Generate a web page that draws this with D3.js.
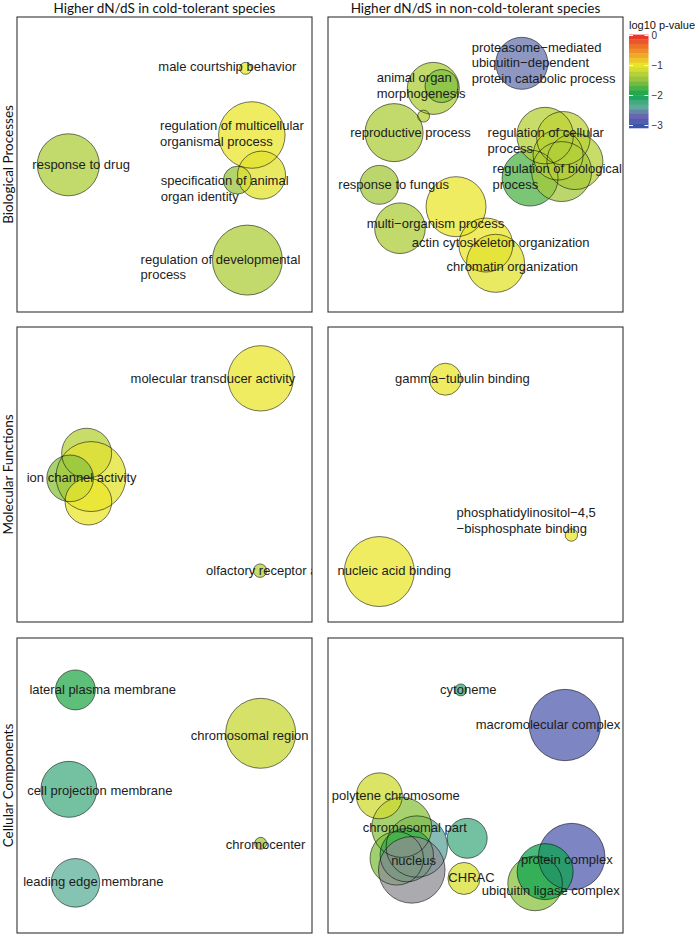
<!DOCTYPE html>
<html>
<head>
<meta charset="utf-8">
<script src="https://cdn.jsdelivr.net/npm/d3@7"></script>
<style>
  body { margin: 0; background: #fff; }
  svg { display: block; }
  .bubbleLabel { font-family: 'Liberation Sans', Arial, sans-serif; font-size: 13px; fill: #1c1c1c; }
  .stripTitle { font-family: Lato, 'Open Sans', sans-serif; font-size: 13.5px; fill: #111; }
  .legendTitle { font-family: 'Liberation Sans', Arial, sans-serif; font-size: 11px; fill: #111; }
  .legendAxis text { font-family: 'Liberation Sans', Arial, sans-serif; font-size: 10px; fill: #333; }
</style>
</head>
<body>
<div id="chart"></div>
<script>
'use strict';

// Facet titles
let columnTitles = ['Higher dN/dS in cold-tolerant species', 'Higher dN/dS in non-cold-tolerant species'];
let rowTitles = ['Biological Processes', 'Molecular Functions', 'Cellular Components'];

// Bubbles: semantic x/y (0-100), log size, log10 p-value (null = NA)
let bpCold = [
  {x: 77.5, y: 82.6, size: 0.11, logp: -1.0},
  {x: 79.6, y: 60.0, size: 3.42, logp: -1.0},
  {x: 74.7, y: 44.7, size: 0.60, logp: -1.45},
  {x: 82.9, y: 46.4, size: 1.78, logp: -1.05},
  {x: 78.1, y: 17.6, size: 3.78, logp: -1.35},
  {x: 17.4, y: 49.9, size: 2.97, logp: -1.35},
];
let bpColdLabels = [
  {text: 'male courtship behavior', x: 47.9, y: 83.1},
  {text: 'regulation of multicellular\norganismal process', x: 48.5, y: 63.1},
  {text: 'specification of animal\norgan identity', x: 48.7, y: 44.6},
  {text: 'regulation of developmental\nprocess', x: 41.9, y: 17.9},
  {text: 'response to drug', x: 5.2, y: 49.9},
];

let bpWarm = [
  {x: 65.7, y: 84.3, size: 2.09, logp: -2.62},
  {x: 35.7, y: 75.8, size: 2.09, logp: -1.35},
  {x: 38.5, y: 76.6, size: 0.84, logp: -1.55},
  {x: 32.4, y: 66.4, size: 0.11, logp: -1.3},
  {x: 22.4, y: 60.8, size: 2.60, logp: -1.35},
  {x: 17.4, y: 43.1, size: 1.17, logp: -1.4},
  {x: 24.4, y: 28.4, size: 1.98, logp: -1.35},
  {x: 43.4, y: 35.7, size: 2.78, logp: -1.0},
  {x: 53.5, y: 22.7, size: 2.25, logp: -1.0},
  {x: 56.8, y: 16.5, size: 2.60, logp: -1.05},
  {x: 68.5, y: 45.4, size: 2.42, logp: -1.75},
  {x: 73.6, y: 59.8, size: 2.47, logp: -1.3},
  {x: 79.8, y: 58.9, size: 2.20, logp: -1.25},
  {x: 83.7, y: 51.0, size: 2.42, logp: -1.3},
  {x: 79.2, y: 47.6, size: 2.78, logp: -1.4},
  {x: 78.0, y: 53.2, size: 1.93, logp: -1.3},
];
let bpWarmLabels = [
  {text: 'proteasome\u2212mediated\nubiquitin\u2212dependent\nprotein catabolic process', x: 48.7, y: 89.8},
  {text: 'animal organ\nmorphogenesis', x: 16.5, y: 79.4},
  {text: 'reproductive process', x: 7.5, y: 60.8},
  {text: 'response to fungus', x: 3.5, y: 43.1},
  {text: 'multi\u2212organism process', x: 13.1, y: 30.1},
  {text: 'actin cytoskeleton organization', x: 28.4, y: 23.7},
  {text: 'chromatin organization', x: 40.2, y: 15.4},
  {text: 'regulation of cellular\nprocess', x: 54.1, y: 60.8},
  {text: 'regulation of biological\nprocess', x: 55.8, y: 48.5},
];

let mfCold = [
  {x: 82.6, y: 82.6, size: 3.30, logp: -1.0},
  {x: 23.6, y: 57.2, size: 1.93, logp: -1.3},
  {x: 25.1, y: 49.3, size: 3.78, logp: -1.05},
  {x: 18.0, y: 48.7, size: 1.68, logp: -1.5},
  {x: 24.2, y: 40.8, size: 1.68, logp: -1.0},
  {x: 82.4, y: 17.4, size: 0.14, logp: -1.3},
];
let mfColdLabels = [
  {text: 'molecular transducer activity', x: 38.5, y: 82.6},
  {text: 'ion channel activity', x: 3.3, y: 49.1},
  {text: 'olfactory receptor activity', x: 64.1, y: 17.4},
];

let mfWarm = [
  {x: 39.8, y: 82.3, size: 0.79, logp: -1.0},
  {x: 82.5, y: 29.5, size: 0.12, logp: -1.0},
  {x: 17.4, y: 17.1, size: 3.78, logp: -1.0},
];
let mfWarmLabels = [
  {text: 'gamma\u2212tubulin binding', x: 22.7, y: 82.5},
  {text: 'phosphatidylinositol\u22124,5\n\u2212bisphosphate binding', x: 43.6, y: 37.1},
  {text: 'nucleic acid binding', x: 3.2, y: 17.4},
];

let ccCold = [
  {x: 19.8, y: 82.4, size: 1.23, logp: -1.9},
  {x: 82.6, y: 67.7, size: 3.78, logp: -1.2},
  {x: 17.6, y: 48.7, size: 2.42, logp: -2.25},
  {x: 82.6, y: 30.4, size: 0.11, logp: -1.4},
  {x: 19.8, y: 17.0, size: 1.82, logp: -2.35},
];
let ccColdLabels = [
  {text: 'lateral plasma membrane', x: 4.2, y: 82.6},
  {text: 'chromosomal region', x: 58.9, y: 67.0},
  {text: 'cell projection membrane', x: 3.5, y: 48.2},
  {text: 'chromocenter', x: 70.8, y: 30.1},
  {text: 'leading edge membrane', x: 2.1, y: 17.4},
];

let ccWarm = [
  {x: 45.0, y: 82.4, size: 0.11, logp: -2.2},
  {x: 80.3, y: 70.5, size: 3.93, logp: -2.85},
  {x: 47.2, y: 32.1, size: 1.23, logp: -2.25},
  {x: 30.1, y: 29.3, size: 2.91, logp: -2.4},
  {x: 25.0, y: 35.8, size: 2.78, logp: -1.5},
  {x: 17.4, y: 46.5, size: 1.63, logp: -1.15},
  {x: 23.3, y: 25.3, size: 2.20, logp: -1.55},
  {x: 26.7, y: 26.4, size: 2.20, logp: -1.85},
  {x: 28.4, y: 21.4, size: 3.42, logp: null},
  {x: 46.1, y: 18.5, size: 0.79, logp: -1.1},
  {x: 70.2, y: 16.8, size: 2.30, logp: -1.5},
  {x: 82.6, y: 25.9, size: 3.42, logp: -2.85},
  {x: 73.6, y: 20.8, size: 2.42, logp: -2.0},
];
let ccWarmLabels = [
  {text: 'cytoneme', x: 38.0, y: 82.4},
  {text: 'macromolecular complex', x: 50.1, y: 70.6},
  {text: 'polytene chromosome', x: 1.3, y: 46.5},
  {text: 'chromosomal part', x: 11.8, y: 35.7},
  {text: 'nucleus', x: 21.4, y: 24.7},
  {text: 'CHRAC', x: 40.8, y: 18.7},
  {text: 'protein complex', x: 65.4, y: 25.1},
  {text: 'ubiquitin ligase complex', x: 52.1, y: 14.4},
];

// Colour scale for log10 p-value
let paletteStops = [-3, -2.7, -2.35, -2.0, -1.4, -1.0, -0.5, 0];
let paletteColors = ['#3a55a8', '#6a62b2', '#5cb098', '#0fa350', '#a4c83c', '#eae62c', '#f08a28', '#e8302c'];
let legendTicks = [0, -1, -2, -3];
let legendLimits = [0.03, -3.08];
let naColor = '#8e8e94';

// Formatting
let width = 700;
let height = 935;
let panelSize = 295;
let panelLeft = [17, 328];
let panelTop = [17, 327, 638];
let fillOpacity = 0.75;
let lineHeight = 15.6;

let xScale = d3.scaleLinear().domain([0, 100]).range([0, panelSize]);
let yScale = d3.scaleLinear().domain([0, 100]).range([panelSize, 0]);
let rScale = d3.scaleSqrt().domain([0, 4]).range([0, 36]);
let colorScale = d3.scaleLinear().domain(paletteStops).range(paletteColors).clamp(true);

let getColor = (d) => (d.logp === null ? naColor : colorScale(d.logp));

let svg = d3.select('#chart').append('svg')
  .attr('width', width)
  .attr('height', height);

function createPanel(id, row, col, bubbles, labels) {
  let g = svg.append('g')
    .attr('transform', `translate(${panelLeft[col]},${panelTop[row]})`);

  g.append('clipPath')
    .attr('id', `clip-${id}`)
    .append('rect')
    .attr('width', panelSize)
    .attr('height', panelSize);

  let inner = g.append('g').attr('clip-path', `url(#clip-${id})`);

  inner.append('g').selectAll('circle')
    .data(bubbles)
    .enter()
    .append('circle')
    .attr('cx', (d) => xScale(d.x))
    .attr('cy', (d) => yScale(d.y))
    .attr('r', (d) => rScale(d.size))
    .style('fill', getColor)
    .style('fill-opacity', fillOpacity);

  // outlines drawn as a separate layer, like the original
  inner.append('g').selectAll('circle')
    .data(bubbles)
    .enter()
    .append('circle')
    .attr('cx', (d) => xScale(d.x))
    .attr('cy', (d) => yScale(d.y))
    .attr('r', (d) => rScale(d.size))
    .style('fill', 'none')
    .style('stroke', 'rgba(0,0,0,0.6)')
    .style('stroke-width', 0.9);

  let text = inner.append('g').selectAll('text')
    .data(labels)
    .enter()
    .append('text')
    .attr('class', 'bubbleLabel')
    .attr('x', (d) => xScale(d.x))
    .attr('y', (d) => yScale(d.y));

  text.selectAll('tspan')
    .data((d) => d.text.split('\n').map((line) => ({line: line, x: xScale(d.x)})))
    .enter()
    .append('tspan')
    .attr('x', (d) => d.x)
    .attr('dy', (d, i) => (i === 0 ? '0.35em' : lineHeight))
    .text((d) => d.line);

  g.append('rect')
    .attr('width', panelSize)
    .attr('height', panelSize)
    .style('fill', 'none')
    .style('stroke', '#333')
    .style('stroke-width', 1.1);
}

createPanel('bpCold', 0, 0, bpCold, bpColdLabels);
createPanel('bpWarm', 0, 1, bpWarm, bpWarmLabels);
createPanel('mfCold', 1, 0, mfCold, mfColdLabels);
createPanel('mfWarm', 1, 1, mfWarm, mfWarmLabels);
createPanel('ccCold', 2, 0, ccCold, ccColdLabels);
createPanel('ccWarm', 2, 1, ccWarm, ccWarmLabels);

// Column titles
svg.selectAll('.colTitle')
  .data(columnTitles)
  .enter()
  .append('text')
  .attr('class', 'stripTitle colTitle')
  .attr('x', (d, i) => panelLeft[i] + panelSize / 2)
  .attr('y', 12.5)
  .attr('text-anchor', 'middle')
  .text((d) => d);

// Row titles
svg.selectAll('.rowTitle')
  .data(rowTitles)
  .enter()
  .append('text')
  .attr('class', 'stripTitle rowTitle')
  .attr('transform', (d, i) => `translate(12.5,${panelTop[i] + panelSize / 2}) rotate(-90)`)
  .attr('text-anchor', 'middle')
  .text((d) => d);

// Legend
let legendX = 629;
let legendW = 19.5;
let legendScale = d3.scaleLinear().domain([0, -3]).range([35.5, 125.5]);
let nBins = 20;
let binStep = (legendLimits[0] - legendLimits[1]) / nBins;
let bins = d3.range(nBins).map((i) => {
  let top = legendLimits[0] - i * binStep;
  return {top: top, bottom: top - binStep, mid: top - binStep / 2};
});

let legend = svg.append('g');

legend.append('text')
  .attr('class', 'legendTitle')
  .attr('x', legendX)
  .attr('y', 29)
  .text('log10 p-value');

legend.selectAll('rect')
  .data(bins)
  .enter()
  .append('rect')
  .attr('x', legendX)
  .attr('y', (d) => legendScale(d.top))
  .attr('width', legendW)
  .attr('height', (d) => legendScale(d.bottom) - legendScale(d.top) + 0.4)
  .style('fill', (d) => colorScale(d.mid));

legend.selectAll('.tickL')
  .data(legendTicks)
  .enter()
  .append('line')
  .attr('x1', legendX)
  .attr('x2', legendX + 4)
  .attr('y1', (d) => legendScale(d))
  .attr('y2', (d) => legendScale(d))
  .style('stroke', '#fff')
  .style('stroke-width', 1);

legend.selectAll('.tickR')
  .data(legendTicks)
  .enter()
  .append('line')
  .attr('x1', legendX + legendW - 4)
  .attr('x2', legendX + legendW)
  .attr('y1', (d) => legendScale(d))
  .attr('y2', (d) => legendScale(d))
  .style('stroke', '#fff')
  .style('stroke-width', 1);

let legendAxis = d3.axisRight(legendScale)
  .tickValues(legendTicks)
  .tickSize(0)
  .tickPadding(3)
  .tickFormat(d3.format('d'));

legend.append('g')
  .attr('class', 'legendAxis')
  .attr('transform', `translate(${legendX + legendW},0)`)
  .call(legendAxis)
  .call((g) => g.select('.domain').remove());
</script>
</body>
</html>
